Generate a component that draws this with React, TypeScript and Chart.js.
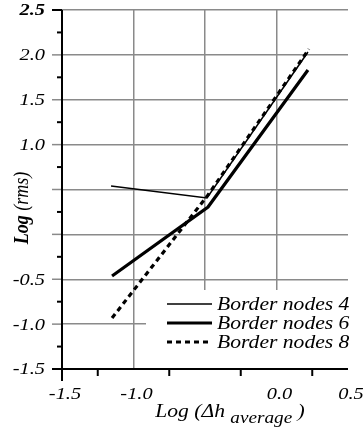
import React, { useEffect, useRef } from 'react';
import { Chart, registerables } from 'chart.js';
Chart.register(...registerables);

const xTickValues = [-1.5, -1.0, -0.5, 0.0, 0.5];
const xTickLabels = ['-1.5', '-1.0', '', '0.0', '0.5'];
const yTickValues = [2.5, 2.0, 1.5, 1.0, 0.5, 0.0, -0.5, -1.0, -1.5];
const yTickLabels = ['2.5', '2.0', '1.5', '1.0', '', '', '-0.5', '-1.0', '-1.5'];
const xMinorTicks = [-1.25, -0.75, -0.25, 0.25];
const yMinorTicks = [2.25, 1.75, 1.25, 0.75, 0.25, -0.25, -0.75, -1.25];
const xGridValues = [-1.0, -0.5, 0.0];

const seriesLabels = ['Border nodes 4', 'Border nodes 6', 'Border nodes 8'];
const border4X = [-1.157, -0.486, 0.22];
const border4Y = [0.539, 0.405, 2.032];
const border6X = [-1.15, -0.479, 0.22];
const border6Y = [-0.464, 0.305, 1.831];
const border8X = [-1.15, -0.479, 0.227];
const border8Y = [-0.932, 0.439, 2.065];

const yTitleBold = 'Log';
const yTitleRest = ' (rms)';
const xTitleMain = 'Log (Δh ';
const xTitleSub = 'average';
const xTitleEnd = ' )';

const SX = 1.2;
const SERIF = '"Liberation Serif", "Times New Roman", serif';

function pts(xs: number[], ys: number[]) {
  return xs.map((x, i) => ({ x, y: ys[i] }));
}

function drawText(ctx: CanvasRenderingContext2D, s: string, x: number, y: number, font: string, align: string) {
  ctx.save();
  ctx.font = font;
  ctx.textBaseline = 'middle';
  ctx.textAlign = 'left';
  const w = ctx.measureText(s).width * SX;
  const x0 = align === 'right' ? x - w : align === 'center' ? x - w / 2 : x;
  ctx.translate(x0, y);
  ctx.scale(SX, 1);
  ctx.fillStyle = '#000';
  ctx.fillText(s, 0, 0);
  ctx.restore();
  return w;
}

const decorPlugin = {
  id: 'decor',
  afterDraw(chart: any) {
    const ctx: CanvasRenderingContext2D = chart.ctx;
    const xs = chart.scales.x;
    const ys = chart.scales.y;
    const { left, right, top, bottom } = chart.chartArea;

    // legend box
    ctx.save();
    ctx.fillStyle = '#fff';
    ctx.fillRect(146, 290, 363 - 146, bottom - 1 - 290);
    const rowY = [304, 323, 342];
    chart.data.datasets.forEach((ds: any, i: number) => {
      ctx.save();
      ctx.strokeStyle = '#000';
      ctx.lineWidth = ds.borderWidth;
      ctx.setLineDash(ds.borderDash || []);
      ctx.beginPath();
      ctx.moveTo(167, rowY[i]);
      ctx.lineTo(212, rowY[i]);
      ctx.stroke();
      ctx.restore();
      drawText(ctx, ds.label, 217, rowY[i] + 1, 'italic 18px ' + SERIF, 'left');
    });
    ctx.restore();

    // grid extensions (major ticks) on y
    ctx.save();
    ctx.strokeStyle = '#8a8a8a';
    ctx.lineWidth = 1.5;
    yTickValues.forEach((v) => {
      if (v === 2.5 || v === -1.5) return;
      const py = ys.getPixelForValue(v);
      ctx.beginPath();
      ctx.moveTo(left - 10, py);
      ctx.lineTo(left, py);
      ctx.stroke();
    });
    ctx.restore();

    // axes
    ctx.save();
    ctx.strokeStyle = '#000';
    ctx.lineWidth = 2;
    ctx.beginPath();
    ctx.moveTo(left, top);
    ctx.lineTo(left, bottom + 12);
    ctx.moveTo(left - 10, bottom);
    ctx.lineTo(right, bottom);
    ctx.moveTo(left - 10, ys.getPixelForValue(2.5));
    ctx.lineTo(left, ys.getPixelForValue(2.5));
    ctx.stroke();
    // minor ticks
    yMinorTicks.forEach((v) => {
      const py = ys.getPixelForValue(v);
      ctx.beginPath();
      ctx.moveTo(left - 5, py);
      ctx.lineTo(left, py);
      ctx.stroke();
    });
    xMinorTicks.forEach((v) => {
      const px = xs.getPixelForValue(v);
      ctx.beginPath();
      ctx.moveTo(px, bottom);
      ctx.lineTo(px, bottom + 7);
      ctx.stroke();
    });
    ctx.restore();

    // tick labels
    yTickValues.forEach((v, i) => {
      const s = yTickLabels[i];
      if (!s) return;
      const bold = v === 2.5 ? 'bold ' : '';
      drawText(ctx, s, 45, ys.getPixelForValue(v) + 1, 'italic ' + bold + '17px ' + SERIF, 'right');
    });
    xTickValues.forEach((v, i) => {
      const s = xTickLabels[i];
      if (!s) return;
      drawText(ctx, s, xs.getPixelForValue(v) + 3, bottom + 26, 'italic 17px ' + SERIF, 'center');
    });

    // y title (rotated)
    ctx.save();
    ctx.translate(22, 208);
    ctx.scale(SX, 1);
    ctx.rotate(-Math.PI / 2);
    ctx.textBaseline = 'middle';
    ctx.textAlign = 'left';
    ctx.fillStyle = '#000';
    const fb = 'italic bold 18px ' + SERIF;
    const fr = 'italic 18px ' + SERIF;
    ctx.font = fb;
    const w1 = ctx.measureText(yTitleBold).width;
    ctx.font = fr;
    const w2 = ctx.measureText(yTitleRest).width;
    const start = -(w1 + w2) / 2;
    ctx.font = fb;
    ctx.fillText(yTitleBold, start, 0);
    ctx.font = fr;
    ctx.fillText(yTitleRest, start + w1, 0);
    ctx.restore();

    // x title with subscript
    ctx.save();
    const fm = 'italic 18px ' + SERIF;
    const fs = 'italic 16px ' + SERIF;
    ctx.font = fm;
    const a = ctx.measureText(xTitleMain).width * SX;
    const c = ctx.measureText(xTitleEnd).width * SX;
    ctx.font = fs;
    const b = ctx.measureText(xTitleSub).width * SX;
    const tot = a + b + c;
    const x0 = 230 - tot / 2;
    const base = 417;
    const put = (s: string, x: number, y: number, f: string) => {
      ctx.save();
      ctx.font = f;
      ctx.textBaseline = 'alphabetic';
      ctx.textAlign = 'left';
      ctx.fillStyle = '#000';
      ctx.translate(x, y);
      ctx.scale(SX, 1);
      ctx.fillText(s, 0, 0);
      ctx.restore();
    };
    put(xTitleMain, x0, base, fm);
    put(xTitleSub, x0 + a, base + 6, fs);
    put(xTitleEnd, x0 + a + b, base, fm);
    ctx.restore();
  },
};

export default function App() {
  const ref = useRef<HTMLCanvasElement | null>(null);
  useEffect(() => {
    document.body.style.margin = '0';
    const canvas = ref.current;
    if (!canvas) return;
    const chart = new Chart(canvas, {
      type: 'line',
      data: {
        datasets: [
          {
            label: seriesLabels[0],
            data: pts(border4X, border4Y),
            borderColor: '#000',
            borderWidth: 1.5,
            pointRadius: 0,
            tension: 0,
            fill: false,
          },
          {
            label: seriesLabels[1],
            data: pts(border6X, border6Y),
            borderColor: '#000',
            borderWidth: 3.2,
            pointRadius: 0,
            tension: 0,
            fill: false,
          },
          {
            label: seriesLabels[2],
            data: pts(border8X, border8Y),
            borderColor: '#000',
            borderWidth: 3.2,
            borderDash: [5, 4],
            pointRadius: 0,
            tension: 0,
            fill: false,
          },
        ],
      },
      options: {
        animation: false,
        responsive: false,
        devicePixelRatio: 1,
        layout: { padding: { left: 62, right: 15, top: 10, bottom: 65 } },
        plugins: { legend: { display: false }, tooltip: { enabled: false } },
        scales: {
          x: {
            type: 'linear',
            min: -1.5,
            max: 0.5,
            ticks: { display: false, stepSize: 0.5 },
            border: { display: false },
            grid: {
              drawTicks: false,
              lineWidth: 1.5,
              color: (c: any) =>
                c.tick && xGridValues.some((g) => Math.abs(g - c.tick.value) < 1e-6) ? '#8a8a8a' : 'rgba(0,0,0,0)',
            },
            afterFit: (s: any) => {
              s.height = 0;
            },
          },
          y: {
            type: 'linear',
            min: -1.5,
            max: 2.5,
            ticks: { display: false, stepSize: 0.5 },
            border: { display: false },
            grid: {
              drawTicks: false,
              lineWidth: 1.5,
              color: (c: any) => (c.tick && c.tick.value > -1.5 + 1e-6 ? '#8a8a8a' : 'rgba(0,0,0,0)'),
            },
            afterFit: (s: any) => {
              s.width = 0;
            },
          },
        },
      },
      plugins: [decorPlugin],
    } as any);
    return () => chart.destroy();
  }, []);
  return (
    <div style={{ width: 363, height: 434, background: '#fff' }}>
      <canvas ref={ref} width={363} height={434} style={{ display: 'block', width: 363, height: 434 }} />
    </div>
  );
}
